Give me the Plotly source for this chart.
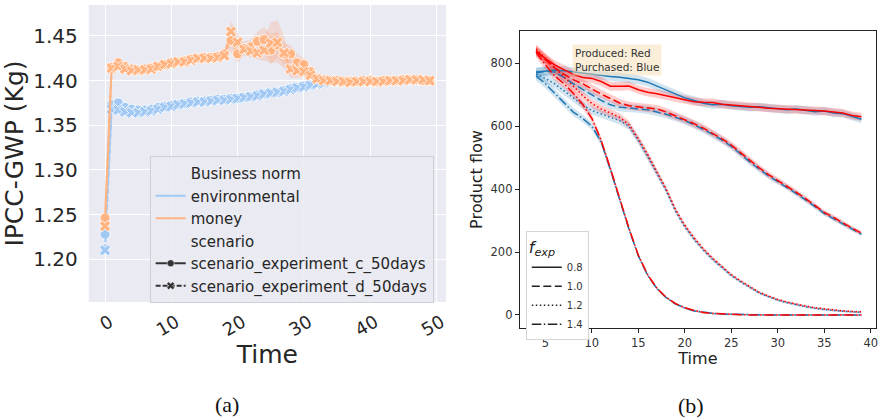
import plotly.graph_objects as go

# ---------------- Panel (a) data ----------------
days = list(range(50))
env_c = [1.228, 1.373, 1.375, 1.370, 1.368, 1.367, 1.367, 1.368, 1.370, 1.371,
         1.372, 1.373, 1.374, 1.376, 1.377, 1.377, 1.378, 1.379, 1.379, 1.380,
         1.380, 1.381, 1.382, 1.384, 1.385, 1.386, 1.387, 1.389, 1.391, 1.392,
         1.394, 1.395, 1.397, 1.398, 1.399, 1.399, 1.399, 1.399, 1.400, 1.399,
         1.399, 1.399, 1.400, 1.400, 1.400, 1.401, 1.400, 1.400, 1.400, 1.400]
env_d = [1.210, 1.368, 1.367, 1.365, 1.364, 1.364, 1.365, 1.366, 1.368, 1.370,
         1.371, 1.373, 1.374, 1.375, 1.376, 1.376, 1.377, 1.378, 1.378, 1.379,
         1.380, 1.381, 1.382, 1.383, 1.385, 1.386, 1.387, 1.388, 1.390, 1.392,
         1.393, 1.395, 1.396, 1.397, 1.398, 1.398, 1.399, 1.399, 1.399, 1.399,
         1.399, 1.399, 1.399, 1.400, 1.400, 1.400, 1.400, 1.400, 1.400, 1.400]
money_c = [1.246, 1.415, 1.420, 1.416, 1.413, 1.412, 1.413, 1.414, 1.416, 1.418,
           1.420, 1.421, 1.422, 1.424, 1.425, 1.426, 1.426, 1.427, 1.430, 1.445,
           1.430, 1.436, 1.438, 1.444, 1.446, 1.434, 1.440, 1.430, 1.430, 1.420,
           1.418, 1.410, 1.402, 1.401, 1.400, 1.400, 1.399, 1.399, 1.399, 1.400,
           1.400, 1.399, 1.400, 1.400, 1.400, 1.401, 1.401, 1.401, 1.400, 1.400]
money_d = [1.237, 1.414, 1.416, 1.413, 1.411, 1.412, 1.412, 1.413, 1.416, 1.418,
           1.419, 1.421, 1.421, 1.423, 1.425, 1.425, 1.425, 1.426, 1.428, 1.455,
           1.443, 1.435, 1.433, 1.431, 1.434, 1.442, 1.443, 1.431, 1.413, 1.411,
           1.410, 1.406, 1.402, 1.400, 1.400, 1.399, 1.399, 1.398, 1.399, 1.399,
           1.399, 1.399, 1.399, 1.400, 1.400, 1.400, 1.401, 1.401, 1.401, 1.400]
band_days = list(range(17, 33))
band_c_hi = [1.429, 1.433, 1.456, 1.441, 1.444, 1.446, 1.455, 1.460, 1.452, 1.455,
             1.442, 1.440, 1.430, 1.425, 1.414, 1.404]
band_c_lo = [1.425, 1.427, 1.432, 1.420, 1.428, 1.430, 1.434, 1.434, 1.418, 1.426,
             1.418, 1.420, 1.410, 1.411, 1.406, 1.400]
band_d_hi = [1.428, 1.431, 1.467, 1.453, 1.441, 1.440, 1.439, 1.448, 1.465, 1.468,
             1.450, 1.425, 1.420, 1.416, 1.409, 1.404]
band_d_lo = [1.424, 1.425, 1.443, 1.433, 1.429, 1.426, 1.424, 1.422, 1.420, 1.420,
             1.414, 1.403, 1.403, 1.404, 1.403, 1.400]
a_xticks = [0, 10, 20, 30, 40, 50]
a_yticks = [1.20, 1.25, 1.30, 1.35, 1.40, 1.45]

# ---------------- Panel (b) data ----------------
time_b = list(range(4, 40))
prod_08 = [840, 815, 795, 780, 765, 755, 752, 742, 727, 727, 728, 716, 708, 703, 697, 690, 685, 678,
           676, 675, 670, 668, 666, 662, 660, 657, 656, 654, 652, 651, 650, 648, 645, 642, 634, 630]
purch_08 = [772, 776, 778, 776, 772, 768, 765, 762, 758, 756, 752, 748, 740, 728, 715, 703, 690, 682,
            673, 668, 670, 665, 662, 660, 662, 658, 654, 652, 655, 650, 646, 648, 642, 640, 632, 622]
prod_10 = [838, 810, 785, 765, 748, 735, 718, 702, 688, 674, 665, 661, 658, 655, 645, 633, 622, 608,
           594, 578, 560, 540, 515, 490, 468, 446, 428, 410, 390, 370, 348, 326, 310, 292, 276, 260]
purch_10 = [770, 775, 772, 755, 735, 718, 700, 682, 668, 660, 658, 656, 652, 645, 638, 628, 618, 605,
            590, 574, 556, 536, 512, 486, 464, 442, 424, 406, 386, 366, 345, 323, 306, 289, 272, 257]
prod_12 = [845, 815, 785, 755, 725, 698, 672, 655, 642, 628, 605, 560, 510, 455, 400, 335, 285, 245,
           210, 180, 155, 128, 108, 90, 72, 60, 49, 41, 34, 28, 23, 19, 16, 13, 11, 10]
purch_12 = [765, 752, 735, 712, 690, 668, 650, 638, 628, 618, 600, 555, 505, 450, 395, 330, 280, 240,
            206, 176, 151, 125, 105, 87, 70, 58, 47, 39, 32, 26, 21, 17, 14, 12, 10, 8]
prod_14 = [835, 795, 760, 735, 705, 670, 625, 555, 465, 370, 275, 190, 128, 85, 56, 36, 23, 14,
           8, 5, 3, 2, 1, 0, 0, 0, 0, 0, 0, 0, 0, 0, 0, 0, 0, 0]
purch_14 = [760, 735, 705, 675, 645, 625, 600, 550, 462, 366, 272, 188, 126, 84, 55, 35, 22, 13,
            8, 5, 3, 2, 1, 0, 0, 0, 0, 0, 0, 0, 0, 0, 0, 0, 0, 0]
f_exp_labels = ["0.8", "1.0", "1.2", "1.4"]
b_xticks = [5, 10, 15, 20, 25, 30, 35, 40]
b_yticks = [0, 200, 400, 600, 800]

# ---------------- styles ----------------
W, H = 878, 420
BLUE_P, ORANGE_P = "#a1c9f4", "#ffb482"
RED, BLUE = "#ff0000", "#1f77b4"
mpl_dash = {"0.8": "solid", "1.0": "8px,3.5px", "1.2": "1.5px,2.5px", "1.4": "9.5px,2.5px,1.5px,2.5px"}
FONT = "DejaVu Sans"

fig = go.Figure()

# panel (a) bands
for hi, lo in [(band_c_hi, band_c_lo), (band_d_hi, band_d_lo)]:
    fig.add_trace(go.Scatter(x=band_days + band_days[::-1], y=hi + lo[::-1], fill="toself",
                             fillcolor="rgba(255,150,100,0.22)", line=dict(width=0),
                             mode="lines", showlegend=False, hoverinfo="skip",
                             xaxis="x", yaxis="y"))

# panel (a) lines
for ys, col, sym, dash in [(env_c, BLUE_P, "circle", "solid"), (env_d, BLUE_P, "x", "6px,2px"),
                           (money_c, ORANGE_P, "circle", "solid"), (money_d, ORANGE_P, "x", "6px,2px")]:
    fig.add_trace(go.Scatter(x=days, y=ys, mode="lines+markers",
                             line=dict(color=col, width=2, dash=dash),
                             marker=dict(symbol=sym, size=10, color=col,
                                         line=dict(color="white", width=0.8)),
                             showlegend=False, xaxis="x", yaxis="y"))

# panel (b) bands and lines
series_b = [(purch_08, BLUE, "0.8"), (purch_10, BLUE, "1.0"), (purch_12, BLUE, "1.2"), (purch_14, BLUE, "1.4"),
            (prod_08, RED, "0.8"), (prod_10, RED, "1.0"), (prod_12, RED, "1.2"), (prod_14, RED, "1.4")]
for ys, col, f in series_b:
    half = [0.015 * v + 3 for v in ys]
    up = [v + h for v, h in zip(ys, half)]
    dn = [v - h for v, h in zip(ys, half)]
    fc = "rgba(31,119,180,0.2)" if col == BLUE else "rgba(255,0,0,0.2)"
    fig.add_trace(go.Scatter(x=time_b + time_b[::-1], y=up + dn[::-1], fill="toself", fillcolor=fc,
                             line=dict(width=0), mode="lines", showlegend=False, hoverinfo="skip",
                             xaxis="x2", yaxis="y2"))
for ys, col, f in series_b:
    fig.add_trace(go.Scatter(x=time_b, y=ys, mode="lines", line=dict(color=col, width=1.5, dash=mpl_dash[f]),
                             showlegend=False, xaxis="x2", yaxis="y2"))

# legend entries panel (a)
def header(name, lg):
    fig.add_trace(go.Scatter(x=[None], y=[None], mode="lines", line=dict(color="rgba(0,0,0,0)", width=2),
                             name=name, legend=lg, xaxis="x", yaxis="y"))

header("Business norm", "legend")
fig.add_trace(go.Scatter(x=[None], y=[None], mode="lines", line=dict(color=BLUE_P, width=2),
                         name="environmental", legend="legend", xaxis="x", yaxis="y"))
fig.add_trace(go.Scatter(x=[None], y=[None], mode="lines", line=dict(color=ORANGE_P, width=2),
                         name="money", legend="legend", xaxis="x", yaxis="y"))
header("scenario", "legend")
fig.add_trace(go.Scatter(x=[None], y=[None], mode="lines+markers", line=dict(color="#333333", width=2),
                         marker=dict(symbol="circle", size=7, color="#333333", line=dict(color="white", width=0.5)),
                         name="scenario_experiment_c_50days", legend="legend", xaxis="x", yaxis="y"))
fig.add_trace(go.Scatter(x=[None], y=[None], mode="lines+markers", line=dict(color="#333333", width=2, dash="5px,2px"),
                         marker=dict(symbol="x", size=7, color="#333333", line=dict(color="white", width=0.5)),
                         name="scenario_experiment_d_50days", legend="legend", xaxis="x", yaxis="y"))

# legend entries panel (b)
for f in f_exp_labels:
    fig.add_trace(go.Scatter(x=[None], y=[None], mode="lines", line=dict(color="#222222", width=1.5, dash=mpl_dash[f]),
                             name=f, legend="legend2", xaxis="x2", yaxis="y2"))

fig.update_layout(
    width=W, height=H, margin=dict(l=0, r=0, t=0, b=0),
    paper_bgcolor="white", plot_bgcolor="white",
    font=dict(family=FONT, color="#262626"),
    xaxis=dict(domain=[89 / W, 447 / W], range=[-2.45, 51.45], tickvals=a_xticks, tickangle=-30,
               tickfont=dict(size=18, color="#262626"), showgrid=True, gridcolor="white", gridwidth=1.3,
               zeroline=False, showline=False, ticks="outside", ticklen=2, tickcolor="rgba(0,0,0,0)",
               ticklabelshift=5,
               title=dict(text="Time", font=dict(size=25, color="#262626"), standoff=4), anchor="y"),
    yaxis=dict(domain=[(H - 302) / H, (H - 5) / H], range=[1.152, 1.4847], tickvals=a_yticks,
               tickformat=".2f", tickfont=dict(size=20, color="#262626"), showgrid=True, gridcolor="white",
               gridwidth=1.3, zeroline=False, showline=False, ticks="outside", ticklen=6,
               tickcolor="rgba(0,0,0,0)",
               title=dict(text="IPCC-GWP (Kg)", font=dict(size=25, color="#262626"), standoff=2), anchor="x"),
    xaxis2=dict(domain=[521 / W, 1.0], range=[2.25, 40.57], tickvals=b_xticks,
                tickfont=dict(size=11.5, color="#333333"), showgrid=False, zeroline=False,
                showline=True, mirror=True, linecolor="#222222", linewidth=1,
                ticks="outside", ticklen=4, tickcolor="#222222", ticklabeloverflow="allow",
                title=dict(text="Time", font=dict(size=16, color="#222222"), standoff=2), anchor="y2"),
    yaxis2=dict(domain=[(H - 327.7) / H, (H - 31.3) / H], range=[-40.4, 901.7], tickvals=b_yticks,
                tickfont=dict(size=11.5, color="#333333"), showgrid=False, zeroline=False,
                showline=True, mirror=True, linecolor="#222222", linewidth=1,
                ticks="outside", ticklen=4, tickcolor="#222222",
                title=dict(text="Product flow", font=dict(size=16, color="#222222"), standoff=3), anchor="x2"),
    legend=dict(x=150 / W, y=(H - 156) / H, xanchor="left", yanchor="top",
                bgcolor="rgba(234,234,242,0.85)", bordercolor="#cfcfd8", borderwidth=1,
                font=dict(size=15, color="#262626", family=FONT), itemwidth=30, tracegroupgap=0),
    legend2=dict(x=527 / W, y=(H - 231) / H, xanchor="left", yanchor="top",
                 bgcolor="white", bordercolor="#d5d5d5", borderwidth=1,
                 font=dict(size=10, color="#333333", family=FONT), itemwidth=30, tracegroupgap=0,
                 title=dict(text="<i>f</i><sub><i>exp</i></sub>", font=dict(size=16, color="#222222"), side="top")),
    shapes=[dict(type="rect", xref="x domain", yref="y domain", x0=0, x1=1, y0=0, y1=1,
                 fillcolor="#EAEAF2", line=dict(width=0), layer="below")],
    annotations=[
        dict(text="Produced: Red<br>Purchased: Blue", xref="paper", yref="paper", x=573 / W, y=(H - 44) / H,
             xanchor="left", yanchor="top", showarrow=False, align="left",
             font=dict(size=10.5, color="#333333", family=FONT),
             bgcolor="rgba(245,222,179,0.5)", borderpad=2),
        dict(text="(a)", xref="paper", yref="paper", x=228 / W, y=(H - 404) / H, xanchor="center",
             yanchor="middle", showarrow=False, font=dict(size=22, family="Liberation Serif", color="#111111")),
        dict(text="(b)", xref="paper", yref="paper", x=693 / W, y=(H - 405) / H, xanchor="center",
             yanchor="middle", showarrow=False, font=dict(size=22, family="Liberation Serif", color="#111111")),
    ],
)

fig.write_html("out.html", config={"displayModeBar": False},
               post_script="document.body.style.margin='0';document.body.style.overflow='hidden';")
